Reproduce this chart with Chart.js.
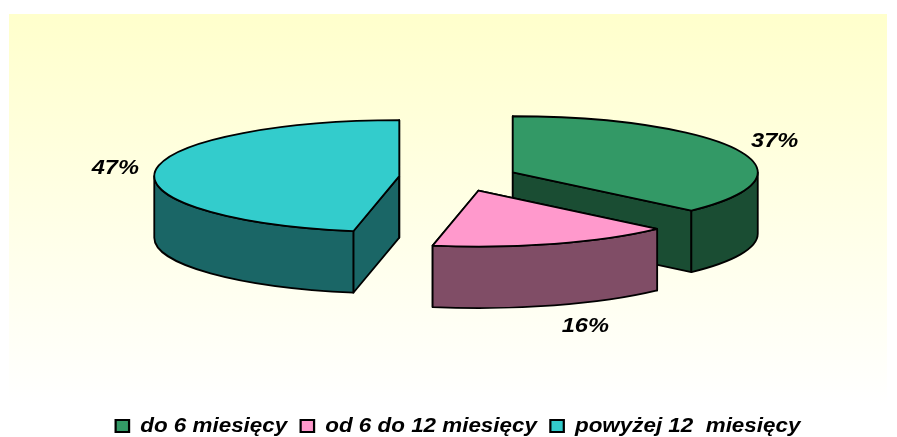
<!DOCTYPE html>
<html>
<head>
<meta charset="utf-8">
<style>
html,body{margin:0;padding:0;background:#fff}
canvas{display:block}
</style>
<script src="https://cdn.jsdelivr.net/npm/chart.js@4"></script>
</head>
<body>
<canvas id="c" width="897" height="437"></canvas>
<script>
'use strict';
const categories=['do 6 miesięcy','od 6 do 12 miesięcy','powyżej 12  miesięcy'];
const shares=[37,16,47];
const topColors=['#339966','#ff99cc','#33cccc'];
const wallColors=['#1a4d33','#804d66','#1a6666'];
const explode=[57.5,60,61];
const labelNudge=[[37,-9],[31,83],[-40,-2]];

const SQUASH=0.2286, DEPTH=61.5, LABEL_WIDEN=1.18, LEGEND_WIDEN=1.12, LIFT=24.5;

function apexOf(arc,i){
  const mid=(arc.startAngle+arc.endAngle)/2;
  return {mid, x:arc.x+Math.cos(mid)*explode[i], y:arc.y-LIFT+Math.sin(mid)*explode[i]*SQUASH};
}
function drawSlice(ctx,arc,i){
  const a0=arc.startAngle, a1=arc.endAngle, rx=arc.outerRadius, ry=rx*SQUASH;
  const {x:ax,y:ay}=apexOf(arc,i);
  ctx.lineWidth=1.8; ctx.strokeStyle='#000'; ctx.lineJoin='round';
  // cut faces
  ctx.fillStyle=wallColors[i];
  [a0,a1].forEach(a=>{
    const ex=ax+rx*Math.cos(a), ey=ay+ry*Math.sin(a);
    ctx.beginPath(); ctx.moveTo(ax,ay); ctx.lineTo(ex,ey); ctx.lineTo(ex,ey+DEPTH); ctx.lineTo(ax,ay+DEPTH); ctx.closePath();
    ctx.fill(); ctx.stroke();
  });
  // outer wall, front half of the ellipse only
  const s=Math.max(a0,0), e=Math.min(a1,Math.PI);
  if(e>s){
    ctx.beginPath();
    ctx.ellipse(ax,ay,rx,ry,0,s,e);
    ctx.ellipse(ax,ay+DEPTH,rx,ry,0,e,s,true);
    ctx.closePath(); ctx.fill(); ctx.stroke();
  }
  // top
  ctx.fillStyle=topColors[i];
  ctx.beginPath(); ctx.moveTo(ax,ay); ctx.ellipse(ax,ay,rx,ry,0,a0,a1); ctx.closePath();
  ctx.fill(); ctx.stroke();
}

const pie3d={
  id:'pie3d',
  beforeDraw(chart){
    const ctx=chart.ctx, g=ctx.createLinearGradient(0,14,0,405);
    g.addColorStop(0,'#ffffcc'); g.addColorStop(1,'#ffffff');
    ctx.save(); ctx.fillStyle=g; ctx.fillRect(9,14,878,391); ctx.restore();
  },
  afterLayout(chart){
    // the reference text is wider than any installed face, so the legend is stretched as a whole
    const legend=chart.legend;
    if(legend.stretched) return;
    legend.stretched=true;
    const plain=legend.draw;
    legend.draw=function(){
      const ctx=chart.ctx, cx=(legend.left+legend.right)/2;
      ctx.save(); ctx.translate(cx-2,0); ctx.scale(LEGEND_WIDEN,1); ctx.translate(-cx,0);
      plain.call(legend);
      ctx.restore();
    };
  },
  beforeDatasetsDraw(chart){
    const ctx=chart.ctx, arcs=chart.getDatasetMeta(0).data;
    ctx.save();
    [2,0,1].forEach(i=>drawSlice(ctx,arcs[i],i));
    // percent labels
    ctx.fillStyle='#000'; ctx.font='italic bold 20px "Liberation Sans"'; ctx.textAlign='center'; ctx.textBaseline='middle';
    arcs.forEach((arc,i)=>{
      const {mid,x:ax,y:ay}=apexOf(arc,i), rx=arc.outerRadius;
      const lx=ax+rx*Math.cos(mid)+labelNudge[i][0], ly=ay+rx*SQUASH*Math.sin(mid)+labelNudge[i][1];
      ctx.save(); ctx.translate(lx,ly); ctx.scale(LABEL_WIDEN,1);
      ctx.fillText(shares[i]+'%',0,0);
      ctx.restore();
    });
    ctx.restore();
    return false;
  }
};

new Chart(document.getElementById('c'),{
  type:'pie',
  data:{labels:categories,datasets:[{data:shares,backgroundColor:topColors,borderColor:'#000',borderWidth:2,radius:245}]},
  options:{
    responsive:false,animation:false,
    layout:{padding:{left:23,right:0,top:0,bottom:-9}},
    plugins:{
      tooltip:{enabled:false},
      legend:{position:'bottom',labels:{boxWidth:12,boxHeight:12,padding:12,color:'#000',font:{family:'"Liberation Sans"',size:20,style:'italic',weight:'bold'}}}
    }
  },
  plugins:[pie3d]
});
</script>
</body>
</html>
